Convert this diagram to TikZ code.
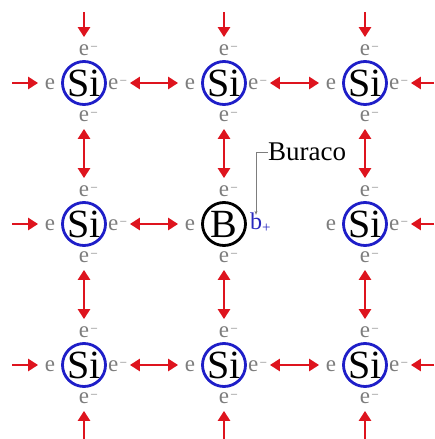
\documentclass[tikz,border=0pt]{standalone}
\usepackage{fontspec}
\setmainfont{Liberation Serif}
\usetikzlibrary{arrows.meta}
\definecolor{atomblue}{RGB}{30,30,200}
\definecolor{bondred}{RGB}{222,20,30}
\definecolor{egrey}{RGB}{125,125,125}
\definecolor{holeblue}{RGB}{40,40,190}
\tikzset{
  atom/.style={circle, draw=atomblue, line width=2.8pt, minimum size=43pt, inner sep=0pt,
    font=\fontsize{40}{40}\selectfont},
  elec/.style={text=egrey, inner sep=0pt, font=\fontsize{23}{23}\selectfont},
  bond/.style={draw=bondred, line width=2.8pt, {Triangle[length=10pt,width=12pt]}-{Triangle[length=10pt,width=12pt]},
    shorten <=23pt, shorten >=23pt},
  inbond/.style={draw=bondred, line width=2.8pt, -{Triangle[length=10pt,width=12pt]}, shorten >=23pt},
  lbl/.style={inner sep=0pt, font=\fontsize{27}{27}\selectfont},
}
\newcommand{\minussup}{\rlap{\raisebox{0.55ex}{\fontsize{12}{12}\selectfont\,–}}}
\newcommand{\atomat}[4]{% name, x, y, text
  \node[atom] (#1) at (#2,#3) {#4};
  \node[elec] (#1t) at (#2,#3-33) {e\minussup};
  \node[elec] (#1b) at (#2,#3+33) {e\minussup};
  \node[elec] (#1l) at (#2-34,#3+1) {e};
  \node[elec, anchor=west] (#1r) at (#2+24,#3+1) {e\minussup};
}
\begin{document}
\begin{tikzpicture}[x=1pt, y=-1pt]
\useasboundingbox (0,0) rectangle (434,439);
% atoms
\atomat{a11}{84}{83}{Si}
\atomat{a12}{224}{83}{Si}
\atomat{a13}{365}{83}{Si}
\atomat{a21}{84}{224}{Si}
\node[atom, draw=black] (a22) at (224,224) {B};
\node[elec] (a22t) at (224,224-33) {e\minussup};
\node[elec] (a22b) at (224,224+33) {e\minussup};
\node[elec] (a22l) at (224-34,224+1) {e};
\atomat{a23}{365}{224}{Si}
\atomat{a31}{84}{365}{Si}
\atomat{a32}{224}{365}{Si}
\atomat{a33}{365}{365}{Si}
% hole
\node[inner sep=0pt, text=holeblue, font=\fontsize{24}{24}\selectfont] (hole) at (256,223) {b\rlap{\raisebox{-0.3ex}{\fontsize{15}{15}\selectfont +}}};
\node[lbl, anchor=west] (bur) at (268,152) {Buraco};
\draw[egrey, line width=0.7pt, -{Stealth[length=4pt,width=3pt]}] (bur.west) -| ([yshift=-2pt]hole.north);
% edge coordinates
\coordinate (l1) at (12,83);
\coordinate (l2) at (12,224);
\coordinate (l3) at (12,365);
\coordinate (r1) at (434,83);
\coordinate (r2) at (434,224);
\coordinate (r3) at (434,365);
\coordinate (t1) at (84,12);
\coordinate (t2) at (224,12);
\coordinate (t3) at (365,12);
\coordinate (d1) at (84,439);
\coordinate (d2) at (224,439);
\coordinate (d3) at (365,439);
\foreach \s/\t in {l1/a11,l2/a21,l3/a31,r1/a13,r2/a23,r3/a33,t1/a11,t2/a12,t3/a13,d1/a31,d2/a32,d3/a33}
  \draw[inbond] (\s) -- (\t);
% bonds
\foreach \s/\t in {a11/a12,a12/a13,a21/a22,a31/a32,a32/a33,a11/a21,a21/a31,a12/a22,a22/a32,a13/a23,a23/a33}
  \draw[bond] (\s) -- (\t);
\end{tikzpicture}
\end{document}
